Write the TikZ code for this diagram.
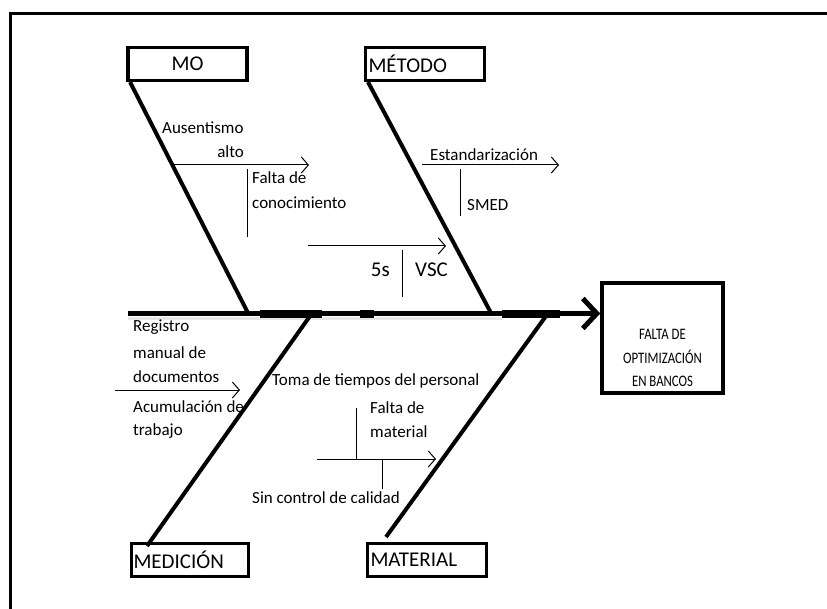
\documentclass[tikz,border=0pt]{standalone}
\usepackage{fontspec}
\setmainfont{Carlito}
\newfontfamily\condfont[FakeStretch=0.8]{Carlito}
\usetikzlibrary{arrows.meta}
\begin{document}
\begin{tikzpicture}[x=1pt,y=-1pt,
  catbox/.style={draw, line width=3.5pt, minimum height=33pt, inner xsep=3pt, text width=113pt, align=left, inner ysep=0pt, font=\fontsize{21}{24}\selectfont},
  effbox/.style={draw, line width=3.5pt, minimum width=121pt, minimum height=110pt, inner sep=0pt},
  bone/.style={line width=4pt},
  sub/.style={line width=1pt},
  subarrow/.style={line width=1pt, -{Straight Barb[length=7pt,width=16pt,line width=1pt]}},
  lbl/.style={inner sep=0pt, font=\fontsize{17}{19}\selectfont, anchor=west},
  big/.style={inner sep=0pt, font=\fontsize{21}{24}\selectfont},
]
\useasboundingbox (0,0) rectangle (827,609);
% frame
\coordinate (fbl) at (10,609);
\coordinate (ftl) at (10,14);
\coordinate (ftr) at (827,14);
\draw[line width=3pt] (fbl) -- (ftl) -- (ftr);

% category boxes
\node[catbox, align=center] (mo) at (187.5,64) {MO};
\node[catbox] (metodo) at (425,64) {MÉTODO};
\node[catbox, inner xsep=2pt] (medicion) at (190,560) {MEDICIÓN};
\node[catbox] (material) at (427,560) {MATERIAL};

% effect box
\node[effbox] (effect) at (662.5,338) {};
\node[inner sep=0pt, align=center, font=\condfont\fontsize{16}{23.5}\selectfont] (efftext) at (662.5,358) {FALTA DE\\OPTIMIZACIÓN\\EN BANCOS};

% spine
\coordinate (sp0) at (128,313.5);
\coordinate (tip) at (effect.west |- sp0);
\draw[black!10, line width=3pt] (128,318.5) -- (502,318.5);
\draw[line width=5.5pt, -{Straight Barb[length=14pt,width=30pt,line width=5pt]}] (sp0) -- (tip);
\draw[line width=8pt] (260,314) -- (322,314);
\draw[line width=8pt] (360,314) -- (374,314);
\draw[line width=8pt] (502,314) -- (560,314);

% bones
\coordinate (moA) at (130,82);   \coordinate (moB) at (248,313);
\coordinate (meA) at (368,82);   \coordinate (meB) at (491,313);
\coordinate (mdA) at (310,316);  \coordinate (mdB) at (147,546);
\coordinate (maA) at (546,316);  \coordinate (maB) at (386,537);
\draw[bone] (moA) -- (moB);
\draw[bone] (meA) -- (meB);
\draw[bone] (mdA) -- (mdB);
\draw[bone] (maA) -- (maB);

% MO causes
\node[lbl] (aus1) at (162,128) {Ausentismo};
\node[lbl, anchor=east] (aus2) at (244,152) {alto};
\coordinate (a1s) at (173,165); \coordinate (a1e) at (309,165);
\draw[subarrow] (a1s) -- (a1e);
\coordinate (v1s) at (247,169); \coordinate (v1e) at (247,237);
\draw[sub] (v1s) -- (v1e);
\node[lbl] (fc1) at (252,178) {Falta de};
\node[lbl] (fc2) at (252,203) {conocimiento};

\coordinate (a5s) at (308,246); \coordinate (a5e) at (446,246);
\draw[subarrow] (a5s) -- (a5e);
\coordinate (v5s) at (402,250); \coordinate (v5e) at (402,297);
\draw[sub] (v5s) -- (v5e);
\node[big, anchor=east] (s5) at (390,270) {5s};
\node[big, anchor=west] (vsc) at (415,270) {VSC};

% METODO causes
\node[lbl] (est) at (430,155) {Estandarización};
\coordinate (aes) at (422,165); \coordinate (aee) at (559,165);
\draw[subarrow] (aes) -- (aee);
\coordinate (vms) at (460,169); \coordinate (vme) at (460,216);
\draw[sub] (vms) -- (vme);
\node[lbl] (smed) at (467,205) {SMED};

% MEDICION causes
\node[lbl] (r1) at (133,327) {Registro};
\node[lbl] (r2) at (133,353) {manual de};
\node[lbl] (r3) at (133,377) {documentos};
\coordinate (ars) at (115,390); \coordinate (are) at (240,390);
\draw[subarrow] (ars) -- (are);
\node[lbl] (ac1) at (133,407) {Acumulación de};
\node[lbl] (ac2) at (133,431) {trabajo};

% MATERIAL causes
\node[lbl] (toma) at (272,381) {Toma de tiempos del personal};
\coordinate (vfs) at (356,408); \coordinate (vfe) at (356,459);
\draw[sub] (vfs) -- (vfe);
\node[lbl] (fm1) at (370,408) {Falta de};
\node[lbl] (fm2) at (370,432) {material};
\coordinate (ams) at (317,459); \coordinate (ame) at (436,459);
\draw[subarrow] (ams) -- (ame);
\coordinate (vcs) at (382,459); \coordinate (vce) at (382,489);
\draw[sub] (vcs) -- (vce);
\node[lbl] (sin) at (252,498) {Sin control de calidad};
\end{tikzpicture}
\end{document}
